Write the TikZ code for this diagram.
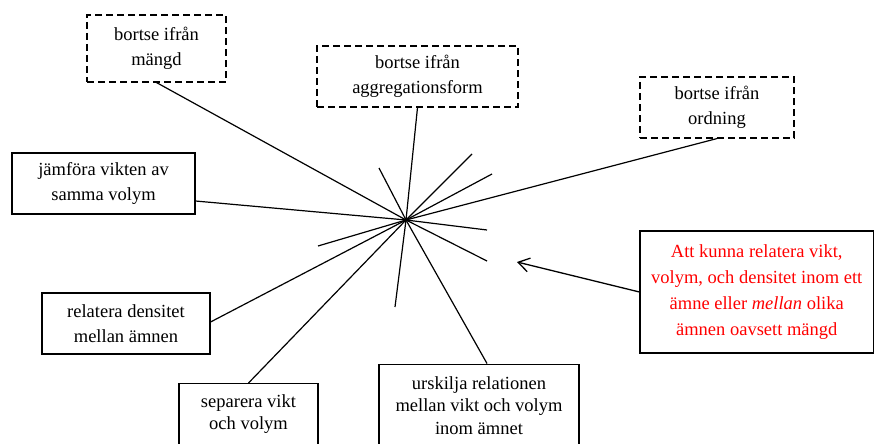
\documentclass[tikz,border=0pt]{standalone}
\usepackage{fontspec}
\setmainfont{Liberation Serif}
\usetikzlibrary{arrows.meta}
\begin{document}
\begin{tikzpicture}[x=1pt,y=-1pt,
  box/.style={draw, line width=1.1pt, inner sep=0pt, align=center, font=\fontsize{18.5}{25}\selectfont},
  dbox/.style={box, dash pattern=on 7pt off 4pt},
  plain/.style={inner sep=0pt, align=center},
  spoke/.style={line width=1.2pt},
  arr/.style={line width=1.3pt, -{Straight Barb[length=11pt,width=14pt]}}]
\useasboundingbox (0,0) rectangle (875,444);
% boxes
\node[dbox, minimum width=139pt, minimum height=67pt] (mangd) at (156.5,48.5) {bortse ifrån\\mängd};
\node[dbox, minimum width=201pt, minimum height=61pt] (aggr) at (417.5,76.5) {bortse ifrån\\aggregationsform};
\node[dbox, minimum width=154pt, minimum height=61pt] (ord) at (717,107.5) {bortse ifrån\\ordning};
\node[box, minimum width=183pt, minimum height=61pt] (jamf) at (103.5,183.5) {\rule{0pt}{4pt}jämföra vikten av\\samma volym};
\node[box, minimum width=168pt, minimum height=61pt] (rel) at (126,323.5) {relatera densitet\\mellan ämnen};
\node[box, minimum width=139pt, minimum height=100pt, anchor=north] (sep) at (248.5,383) {};
\node[plain, anchor=north, font=\fontsize{18.5}{22}\selectfont] (septext) at (248.5,394) {separera vikt\\och volym};
\node[box, minimum width=200pt, minimum height=100pt, anchor=north] (ursk) at (479,363.5) {};
\node[plain, anchor=north, font=\fontsize{18.5}{22.5}\selectfont] (ursktext) at (479,376) {urskilja relationen\\mellan vikt och volym\\inom ämnet};
\node[box, text=red, minimum width=233.5pt, minimum height=122pt, font=\fontsize{18.5}{26}\selectfont] (goal) at (756.75,292) {Att kunna relatera vikt,\\volym, och densitet inom ett\\ämne eller \textit{mellan} olika\\ämnen oavsett mängd};
% centre and free ends
\coordinate (c) at (406,220);
\coordinate (e1) at (379,168);
\coordinate (e2) at (472,154);
\coordinate (e3) at (492,174);
\coordinate (e4) at (487,230);
\coordinate (e5) at (318,246);
\coordinate (e6) at (487,261);
\coordinate (e7) at (395,307);
\coordinate (tip) at (517,262);
% spokes to boxes
\draw[spoke] (c) -- (mangd.south);
\draw[spoke] (c) -- (aggr.south);
\draw[spoke] (c) -- (ord.south);
\draw[spoke] (c) -- ([yshift=-17.5pt]jamf.east);
\draw[spoke] (c) -- ([yshift=1.5pt]rel.east);
\draw[spoke] (c) -- (sep.north);
\draw[spoke] (c) -- ([xshift=8pt]ursk.north);
% free spokes
\foreach \e in {e1,e2,e3,e4,e5,e6,e7} \draw[spoke] (c) -- (\e);
% arrow
\draw[arr] (goal.west) -- (tip);
\end{tikzpicture}
\end{document}
